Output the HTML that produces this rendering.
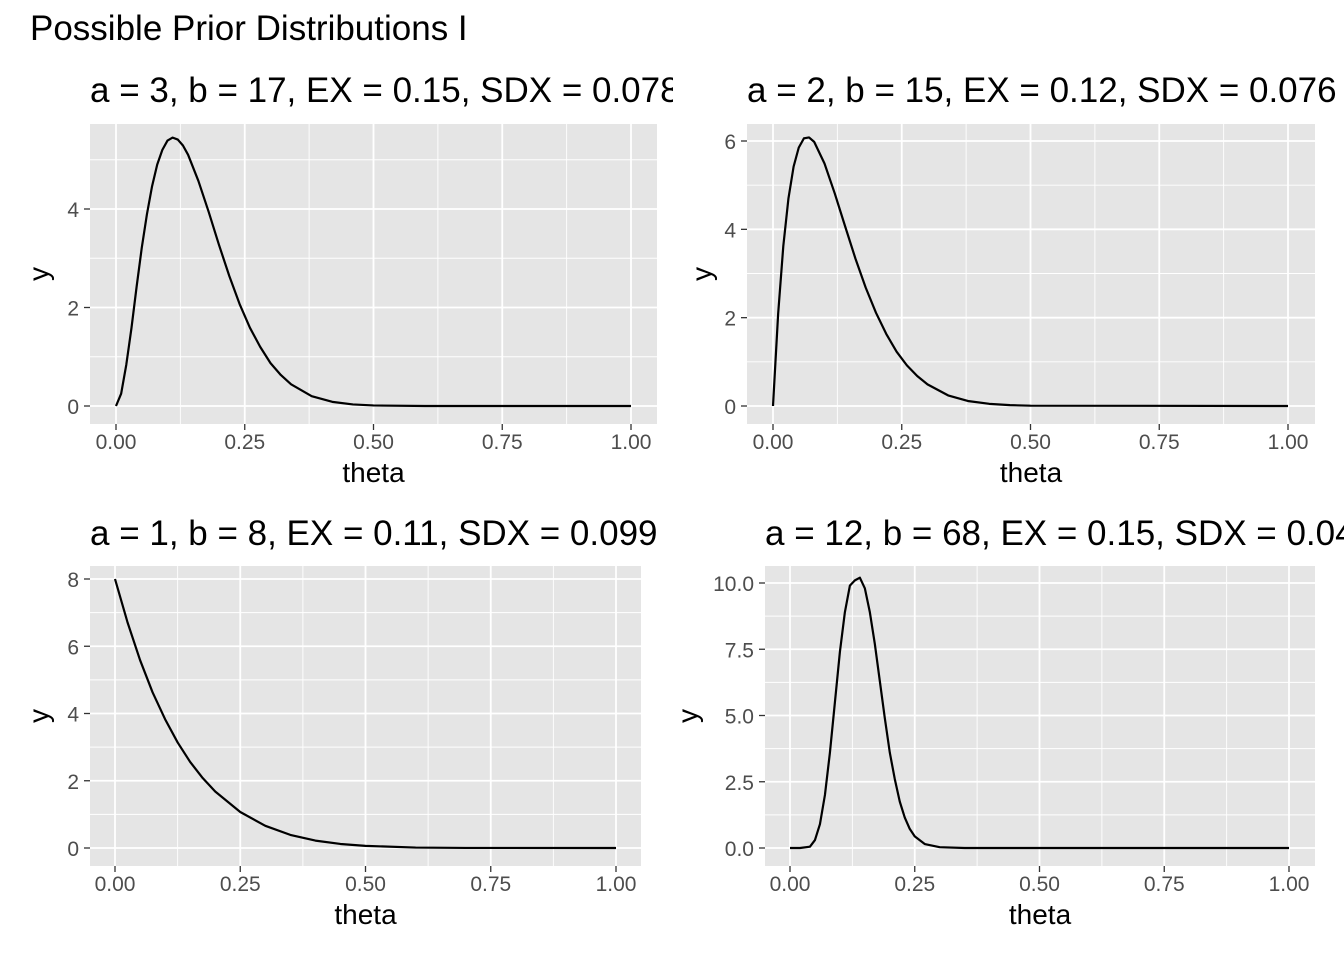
<!DOCTYPE html>
<html><head><meta charset="utf-8"><style>
html,body{margin:0;padding:0;background:#fff;}
svg{display:block;font-family:"Liberation Sans",Arial,sans-serif;}
</style></head><body>
<svg id="chart" width="1344" height="960" viewBox="0 0 1344 960">
<defs>
<clipPath id="cl1"><rect x="0" y="60" width="673" height="60"/></clipPath>
<clipPath id="cl2"><rect x="673" y="60" width="671" height="60"/></clipPath>
<clipPath id="cl3"><rect x="0" y="500" width="657" height="60"/></clipPath>
<clipPath id="cl4"><rect x="657" y="500" width="687" height="60"/></clipPath>
</defs>
<text x="30" y="40" font-size="35" fill="#000">Possible Prior Distributions I</text>
</svg>
<script>
const p1X=[0,0.01,0.02,0.03,0.04,0.05,0.06,0.07,0.08,0.09,0.10,0.11,0.12,0.13,0.14,0.16,0.18,0.20,0.22,0.24,0.26,0.28,0.30,0.32,0.34,0.38,0.42,0.46,0.50,0.60,1.0];
const p1Y=[0,0.25,0.84,1.58,2.42,3.21,3.89,4.46,4.90,5.20,5.39,5.45,5.41,5.29,5.10,4.57,3.94,3.27,2.64,2.07,1.59,1.20,0.87,0.63,0.44,0.20,0.084,0.032,0.011,0,0];
const p2X=[0,0.01,0.02,0.03,0.04,0.05,0.06,0.07,0.08,0.10,0.12,0.14,0.16,0.18,0.20,0.22,0.24,0.26,0.28,0.30,0.34,0.38,0.42,0.46,0.50,1.0];
const p2Y=[0,2.09,3.62,4.70,5.42,5.85,6.06,6.08,5.98,5.49,4.81,4.07,3.34,2.68,2.11,1.63,1.23,0.92,0.68,0.49,0.24,0.11,0.049,0.02,0.007,0];
const p3X=[0,0.025,0.05,0.075,0.10,0.125,0.15,0.175,0.20,0.25,0.30,0.35,0.40,0.45,0.50,0.60,0.70,1.0];
const p3Y=[8,6.71,5.59,4.63,3.83,3.14,2.56,2.08,1.68,1.07,0.66,0.39,0.22,0.12,0.063,0.013,0.002,0];
const p4X=[0,0.02,0.04,0.05,0.06,0.07,0.08,0.09,0.10,0.11,0.12,0.13,0.14,0.15,0.16,0.17,0.18,0.19,0.20,0.21,0.22,0.23,0.24,0.25,0.27,0.30,0.35,1.0];
const p4Y=[0,0,0.05,0.3,0.9,2.0,3.6,5.5,7.4,8.9,9.9,10.1,10.2,9.8,8.9,7.7,6.3,4.9,3.6,2.6,1.75,1.15,0.72,0.44,0.15,0.03,0,0];
const xTicks=[0,0.25,0.5,0.75,1];
const xTickLabels=["0.00","0.25","0.50","0.75","1.00"];
const y1Ticks=[0,2,4], y1Labels=["0","2","4"];
const y2Ticks=[0,2,4,6], y2Labels=["0","2","4","6"];
const y3Ticks=[0,2,4,6,8], y3Labels=["0","2","4","6","8"];
const y4Ticks=[0,2.5,5,7.5,10], y4Labels=["0.0","2.5","5.0","7.5","10.0"];
const titles=["a = 3, b = 17, EX = 0.15, SDX = 0.078","a = 2, b = 15, EX = 0.12, SDX = 0.076","a = 1, b = 8, EX = 0.11, SDX = 0.099","a = 12, b = 68, EX = 0.15, SDX = 0.04"];

const NS="http://www.w3.org/2000/svg";
const svg=document.getElementById('chart');
function mk(tag,attrs,parent){const e=document.createElementNS(NS,tag);for(const k in attrs)e.setAttribute(k,attrs[k]);(parent||svg).appendChild(e);return e;}

const panels=[
 {xs:p1X,ys:p1Y,yt:y1Ticks,yl:y1Labels,L:90,R:657,T:124,B:424,x0:116,x1:631,y0:406,yv:4,yp:209,title:titles[0],tx:90,ty:102,clip:'cl1'},
 {xs:p2X,ys:p2Y,yt:y2Ticks,yl:y2Labels,L:747,R:1315,T:124,B:424,x0:773,x1:1288,y0:406,yv:6,yp:141,title:titles[1],tx:747,ty:102,clip:'cl2'},
 {xs:p3X,ys:p3Y,yt:y3Ticks,yl:y3Labels,L:90,R:641,T:566,B:866,x0:115,x1:616,y0:848,yv:8,yp:579,title:titles[2],tx:90,ty:545,clip:'cl3'},
 {xs:p4X,ys:p4Y,yt:y4Ticks,yl:y4Labels,L:765,R:1315,T:566,B:866,x0:790,x1:1289,y0:848,yv:10,yp:583,title:titles[3],tx:765,ty:545,clip:'cl4'}
];
panels.forEach((p,i)=>{
 const g=mk('g',{});
 
 
 const sx=v=>p.x0+(p.x1-p.x0)*v;
 const sy=v=>p.y0+(p.yp-p.y0)*v/p.yv;
 const t=mk('text',{x:p.tx,y:p.ty,'font-size':35,fill:'#000','clip-path':'url(#'+p.clip+')'},g);
 t.textContent=p.title;
 
 
 const bg=mk('rect',{x:p.L,y:p.T,width:p.R-p.L,height:p.B-p.T,fill:'#E5E5E5'},g);
 
 
 for(let k=0;k<xTicks.length-1;k++){const v=(xTicks[k]+xTicks[k+1])/2;mk('line',{x1:sx(v),x2:sx(v),y1:p.T,y2:p.B,stroke:'#fff','stroke-width':0.9},g);}
 for(let k=0;k<p.yt.length;k++){const v=k<p.yt.length-1?(p.yt[k]+p.yt[k+1])/2:p.yt[k]+(p.yt[1]-p.yt[0])/2;const y=sy(v);if(y>p.T)mk('line',{x1:p.L,x2:p.R,y1:y,y2:y,stroke:'#fff','stroke-width':0.9},g);}
 xTicks.forEach((v,k)=>{const x=sx(v);
  mk('line',{x1:x,x2:x,y1:p.T,y2:p.B,stroke:'#fff','stroke-width':1.8},g);
  mk('line',{x1:x,x2:x,y1:p.B,y2:p.B+6,stroke:'#333','stroke-width':1.3},g);
  const l=mk('text',{x:x,y:p.B+25,'font-size':21,fill:'#4D4D4D','text-anchor':'middle'},g);l.textContent=xTickLabels[k];
  
  });
 p.yt.forEach((v,k)=>{const y=sy(v);
  mk('line',{x1:p.L,x2:p.R,y1:y,y2:y,stroke:'#fff','stroke-width':1.8},g);
  mk('line',{x1:p.L-6,x2:p.L,y1:y,y2:y,stroke:'#333','stroke-width':1.3},g);
  const l=mk('text',{x:p.L-11,y:y+8,'font-size':21,fill:'#4D4D4D','text-anchor':'end'},g);l.textContent=p.yl[k];
  
  });
 const d=p.xs.map((v,k)=>(k?'L':'M')+sx(v).toFixed(2)+','+sy(p.ys[k]).toFixed(2)).join(' ');
 const path=mk('path',{d:d,fill:'none',stroke:'#000','stroke-width':2.2,'stroke-linejoin':'round'},g);
 
 
 const xt=mk('text',{x:(p.L+p.R)/2,y:p.B+58,'font-size':28,fill:'#000','text-anchor':'middle'},g);xt.textContent='theta';
 
 
 const yx=p.L-(i==3?68:i==1?36:42),ym=(p.T+p.B)/2;
 const yt=mk('text',{x:yx,y:ym,'font-size':28,fill:'#000','text-anchor':'middle',transform:'rotate(-90 '+yx+' '+ym+')'},g);yt.textContent='y';
 
 
});
</script>
</body></html>
